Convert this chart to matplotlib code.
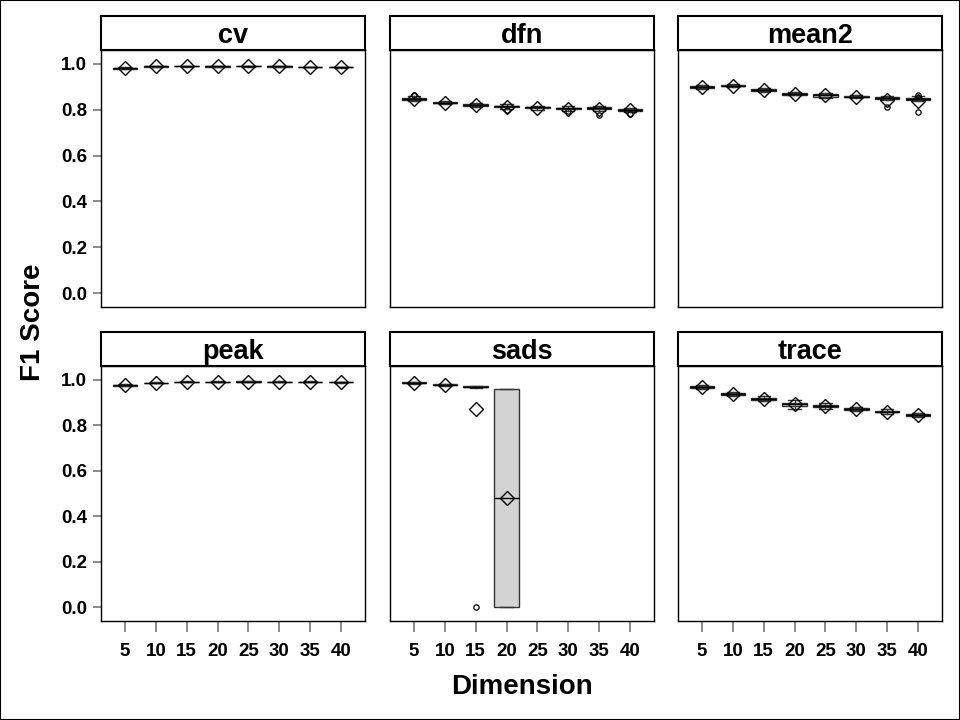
import matplotlib
matplotlib.use('Agg')
import matplotlib.pyplot as plt
from matplotlib.patches import Rectangle

plt.rcParams['font.family'] = ['Liberation Sans', 'DejaVu Sans']
plt.rcParams['font.weight'] = 'bold'

dims = [5, 10, 15, 20, 25, 30, 35, 40]
panels = ['cv', 'dfn', 'mean2', 'peak', 'sads', 'trace']

# box summary per panel: median, q1, q3, whisker low, whisker high, mean (None = no data)
med = {
    'cv':    [0.981, 0.989, 0.990, 0.989, 0.990, 0.989, 0.986, 0.985],
    'dfn':   [0.847, 0.830, 0.822, 0.815, 0.810, 0.806, 0.807, 0.799],
    'mean2': [0.899, 0.905, 0.885, 0.869, 0.862, 0.856, 0.851, 0.845],
    'peak':  [0.975, 0.986, 0.990, 0.990, 0.991, 0.990, 0.990, 0.989],
    'sads':  [0.986, 0.978, 0.968, 0.480, None, None, None, None],
    'trace': [0.968, 0.938, 0.916, 0.891, 0.885, 0.870, 0.860, 0.845],
}
q1 = {
    'cv':    [0.979, 0.988, 0.989, 0.988, 0.989, 0.988, 0.985, 0.984],
    'dfn':   [0.843, 0.827, 0.818, 0.811, 0.806, 0.802, 0.801, 0.795],
    'mean2': [0.896, 0.902, 0.880, 0.866, 0.857, 0.853, 0.848, 0.841],
    'peak':  [0.973, 0.985, 0.989, 0.989, 0.990, 0.989, 0.989, 0.988],
    'sads':  [0.984, 0.976, 0.966, 0.000, None, None, None, None],
    'trace': [0.965, 0.934, 0.912, 0.885, 0.879, 0.866, 0.856, 0.841],
}
q3 = {
    'cv':    [0.983, 0.990, 0.991, 0.990, 0.991, 0.990, 0.987, 0.986],
    'dfn':   [0.850, 0.833, 0.825, 0.818, 0.813, 0.809, 0.813, 0.802],
    'mean2': [0.902, 0.908, 0.889, 0.873, 0.867, 0.859, 0.855, 0.849],
    'peak':  [0.977, 0.987, 0.991, 0.991, 0.992, 0.991, 0.991, 0.990],
    'sads':  [0.988, 0.980, 0.970, 0.960, None, None, None, None],
    'trace': [0.971, 0.942, 0.920, 0.897, 0.890, 0.874, 0.864, 0.849],
}
wlo = {
    'cv':    [0.977, 0.987, 0.988, 0.987, 0.988, 0.987, 0.984, 0.983],
    'dfn':   [0.838, 0.823, 0.812, 0.805, 0.800, 0.795, 0.793, 0.790],
    'mean2': [0.892, 0.898, 0.876, 0.862, 0.851, 0.849, 0.843, 0.836],
    'peak':  [0.971, 0.984, 0.988, 0.988, 0.989, 0.988, 0.988, 0.987],
    'sads':  [0.982, 0.974, 0.965, 0.000, None, None, None, None],
    'trace': [0.961, 0.930, 0.906, 0.872, 0.870, 0.862, 0.851, 0.837],
}
whi = {
    'cv':    [0.985, 0.991, 0.992, 0.991, 0.992, 0.991, 0.988, 0.987],
    'dfn':   [0.858, 0.838, 0.830, 0.823, 0.818, 0.815, 0.818, 0.808],
    'mean2': [0.908, 0.914, 0.893, 0.878, 0.874, 0.864, 0.860, 0.858],
    'peak':  [0.979, 0.988, 0.992, 0.992, 0.993, 0.992, 0.992, 0.991],
    'sads':  [0.990, 0.982, 0.972, 0.960, None, None, None, None],
    'trace': [0.975, 0.946, 0.928, 0.910, 0.898, 0.879, 0.870, 0.853],
}
mean = {
    'cv':    [0.980, 0.989, 0.990, 0.989, 0.990, 0.989, 0.986, 0.985],
    'dfn':   [0.846, 0.829, 0.820, 0.813, 0.808, 0.804, 0.802, 0.797],
    'mean2': [0.898, 0.905, 0.884, 0.869, 0.862, 0.856, 0.843, 0.839],
    'peak':  [0.975, 0.986, 0.990, 0.990, 0.991, 0.990, 0.990, 0.989],
    'sads':  [0.986, 0.978, 0.871, 0.480, None, None, None, None],
    'trace': [0.968, 0.938, 0.916, 0.891, 0.885, 0.870, 0.860, 0.845],
}
outliers = {
    'dfn':   {5: [0.862], 20: [0.797], 30: [0.792], 35: [0.776], 40: [0.780]},
    'mean2': {35: [0.810], 40: [0.790, 0.862]},
    'sads':  {15: [0.0]},
}

fig = plt.figure(figsize=(9.6, 7.2), dpi=100)
fig.patches.append(Rectangle((0, 0), 1, 1, transform=fig.transFigure, fill=False,
                             edgecolor='black', linewidth=1.5))

W, H = 960, 720
lefts = [101, 390, 678]
width = 264
tops = [50, 366]
height = [257, 255]
hdr = 34

for i, name in enumerate(panels):
    r, c = divmod(i, 3)
    x0 = lefts[c] / W
    y0 = 1 - (tops[r] + height[r]) / H
    ax = fig.add_axes([x0, y0, width / W, height[r] / H])
    hx = fig.add_axes([x0, 1 - tops[r] / H, width / W, hdr / H])
    hx.set_xticks([])
    hx.set_yticks([])
    for s in hx.spines.values():
        s.set_linewidth(1.5)
    hx.text(0.5, 0.42, name, ha='center', va='center', fontsize=19.5, fontweight='bold',
            transform=hx.transAxes)

    stats = []
    pos = []
    for k, d in enumerate(dims):
        if med[name][k] is None:
            continue
        stats.append(dict(med=med[name][k], q1=q1[name][k], q3=q3[name][k],
                          whislo=wlo[name][k], whishi=whi[name][k], mean=mean[name][k],
                          fliers=outliers.get(name, {}).get(d, [])))
        pos.append(k + 1)
    ax.bxp(stats, positions=pos, widths=0.8, patch_artist=True, showmeans=True,
           boxprops=dict(facecolor='#d3d3d3', edgecolor='#333333', linewidth=1),
           medianprops=dict(color='black', linewidth=1),
           whiskerprops=dict(color='#333333', linewidth=1),
           capprops=dict(color='#333333', linewidth=1),
           meanprops=dict(marker='D', markerfacecolor='none', markeredgecolor='black',
                          markersize=7.5, markeredgewidth=1),
           flierprops=dict(marker='o', markerfacecolor='none', markeredgecolor='black',
                           markersize=3.8, markeredgewidth=0.9))

    ax.set_xlim(0.22, 8.78)
    ax.set_ylim(-0.06, 1.06)
    ax.set_xticks(range(1, 9))
    ax.set_yticks([0.0, 0.2, 0.4, 0.6, 0.8, 1.0])
    ax.tick_params(axis='both', color='#777777', direction='out', length=6, width=1.2,
                   labelsize=13.5, pad=4)
    if c == 0:
        ax.set_yticklabels(['%.1f' % v for v in [0.0, 0.2, 0.4, 0.6, 0.8, 1.0]], fontweight='bold')
    else:
        ax.tick_params(axis='y', left=False, labelleft=False)
    if r == 1:
        ax.set_xticklabels([str(d) for d in dims], fontweight='bold')
        ax.tick_params(axis='x', pad=8, length=8)
    else:
        ax.tick_params(axis='x', bottom=False, labelbottom=False)
    for s in ax.spines.values():
        s.set_linewidth(1)

fig.text(33 / W, 1 - 322 / H, 'F1 Score', rotation=90, ha='center', va='center', fontsize=20,
         fontweight='bold')
fig.text(522 / W, 1 - 687 / H, 'Dimension', ha='center', va='center', fontsize=20,
         fontweight='bold')

fig.savefig('out.png', dpi=100)
